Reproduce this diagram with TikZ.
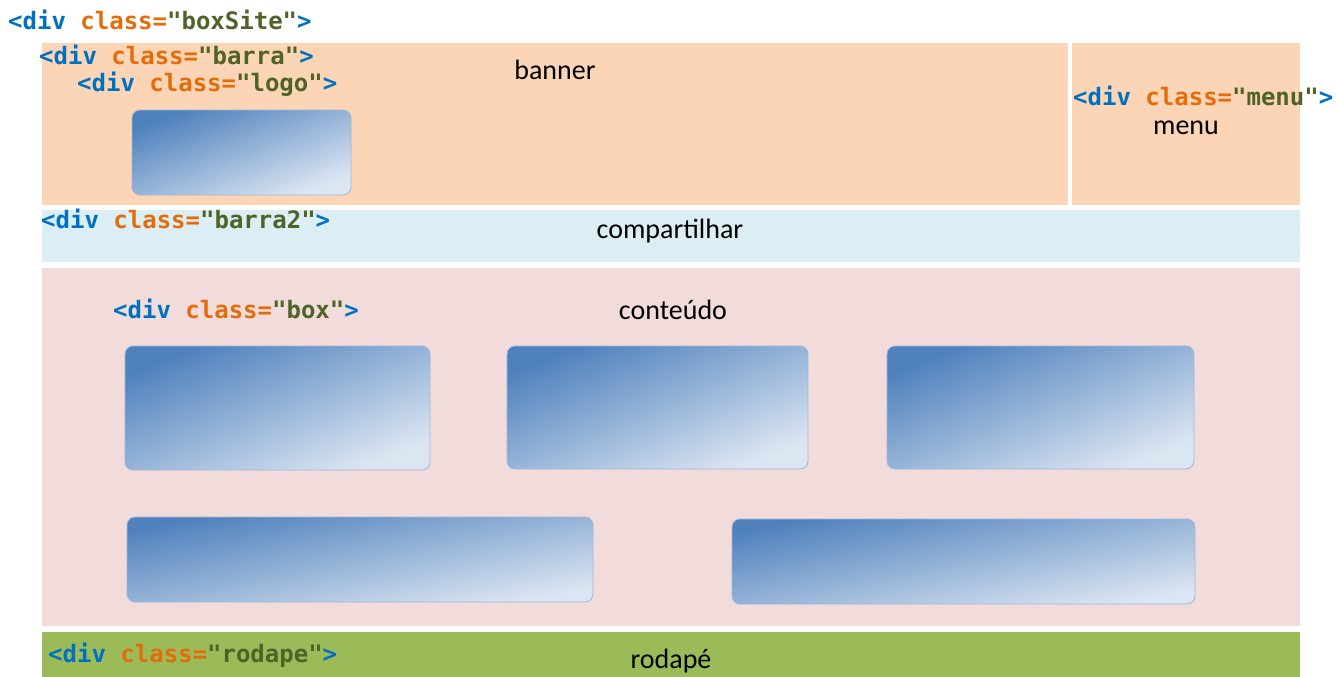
\documentclass[tikz,border=0pt]{standalone}
\usepackage{fontspec}
\setmainfont{Carlito}
\newfontfamily\codefont{DejaVu Sans Mono}
\definecolor{barracol}{HTML}{FBD5B5}
\definecolor{barra2col}{HTML}{DAEEF3}
\definecolor{contcol}{HTML}{F2DCDB}
\definecolor{rodcol}{HTML}{9BBB59}
\definecolor{tagblue}{HTML}{0070C0}
\definecolor{attrorange}{HTML}{E46C0A}
\definecolor{strgreen}{HTML}{4F6228}
\definecolor{graddark}{HTML}{4F81BD}
\definecolor{gradlight}{HTML}{DCE6F2}
\definecolor{boxborder}{HTML}{9BB7DC}
\newcommand{\divtag}[1]{{\codefont\bfseries\color{tagblue}<div \color{attrorange}class=\color{strgreen}"#1"\color{tagblue}>}}
\begin{document}
\begin{tikzpicture}[x=1pt,y=-1pt,
  codelabel/.style={anchor=base west,inner sep=0pt,font=\fontsize{24}{26}\selectfont},
  namelabel/.style={anchor=base,inner sep=0pt,font=\fontsize{28}{30}\selectfont,text=black},
  gradbox/.style={draw=boxborder,line width=0.8pt,rounded corners=8pt,top color=graddark,bottom color=gradlight,shading angle=22},
  widebox/.style={gradbox,shading angle=11}]
\useasboundingbox (0,0) rectangle (1336,677);
\fill[white] (0,0) rectangle (1336,677);
% regions
\fill[barracol] (42,43) rectangle (1068,205);
\fill[barracol] (1072,43) rectangle (1300,205);
\fill[barra2col] (42,210) rectangle (1300,262);
\fill[contcol] (42,268) rectangle (1300,626);
\fill[rodcol] (42,632) rectangle (1300,677);
% boxes
\shade[gradbox,shading angle=21] (132,110) rectangle (351,195);
\shade[gradbox] (125,346) rectangle (430,470);
\shade[gradbox] (507,346) rectangle (808,469);
\shade[gradbox] (887,346) rectangle (1194,469);
\shade[widebox] (127,517) rectangle (593,602);
\shade[widebox] (732,519) rectangle (1195,604);
% code labels
\node[codelabel] (tboxsite) at (8,30) {\divtag{boxSite}};
\node[codelabel] (tbarra) at (39,64) {\divtag{barra}};
\node[codelabel] (tlogo) at (77,92) {\divtag{logo}};
\node[codelabel] (tmenu) at (1073,106) {\divtag{menu}};
\node[codelabel] (tbarra2) at (41,228) {\divtag{barra2}};
\node[codelabel] (tbox) at (113,318) {\divtag{box}};
\node[codelabel] (trodape) at (48,662) {\divtag{rodape}};
% name labels
\node[namelabel] (lbanner) at (555,79) {banner};
\node[namelabel] (lmenu) at (1186,134) {menu};
\node[namelabel] (lcomp) at (670,238) {compartilhar};
\node[namelabel] (lcont) at (673,319) {conteúdo};
\node[namelabel] (lrod) at (671,668) {rodapé};
\end{tikzpicture}
\end{document}
